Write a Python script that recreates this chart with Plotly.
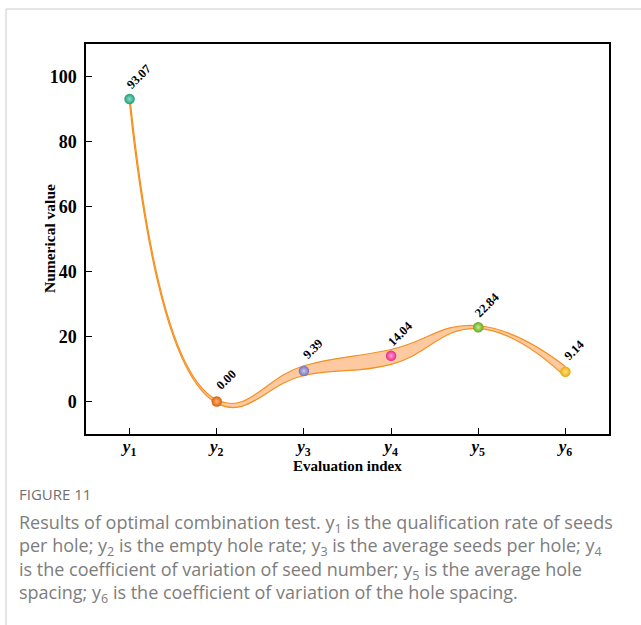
import plotly.graph_objects as go

# evaluation indices and optimal-combination results
index_labels = ["y1", "y2", "y3", "y4", "y5", "y6"]
values = [93.07, 0.00, 9.39, 14.04, 22.84, 9.14]
band_upper = [94.5, 0.5, 11.0, 16.0, 23.3, 10.8]
band_lower = [91.6, -0.5, 8.0, 11.4, 22.4, 7.6]
point_colors = ["#1b9e77", "#d95f02", "#7570b3", "#e7298a", "#66a61e", "#e6ab02"]
highlight_colors = ["#8fe0c8", "#ffb27a", "#c8c4f0", "#ff9fd0", "#c2ef8c", "#ffe08a"]

caption_head = "FIGURE 11"
caption_lines = [
    "Results of optimal combination test. y<sub>1</sub> is the qualification rate of seeds",
    "per hole; y<sub>2</sub> is the empty hole rate; y<sub>3</sub> is the average seeds per hole; y<sub>4</sub>",
    "is the coefficient of variation of seed number; y<sub>5</sub> is the average hole",
    "spacing; y<sub>6</sub> is the coefficient of variation of the hole spacing.",
]

W, H = 641, 625
L, R, T, B = 86, 609, 44, 434


def px_x(x):
    return (x - L) / (R - L)


def px_y(y):
    return (B - y) / (B - T)


xs = list(range(1, len(values) + 1))
serif = "Liberation Serif"
band_line = "#f5901f"

fig = go.Figure()

fig.add_trace(go.Scatter(
    x=xs, y=band_lower, mode="lines",
    line=dict(color=band_line, width=1.2, shape="spline", smoothing=1.3),
    hoverinfo="skip", showlegend=False,
))
fig.add_trace(go.Scatter(
    x=xs, y=band_upper, mode="lines",
    line=dict(color=band_line, width=1.2, shape="spline", smoothing=1.3),
    fill="tonexty", fillcolor="rgba(252,192,145,0.85)",
    hoverinfo="skip", showlegend=False,
))
fig.add_trace(go.Scatter(
    x=xs, y=values, mode="markers",
    marker=dict(size=10.5, color=point_colors,
                gradient=dict(type="radial", color=highlight_colors),
                line=dict(width=0)),
    showlegend=False,
))

for x, v in zip(xs, values):
    fig.add_annotation(
        x=x, y=v, xref="x", yref="y", text=f"{v:.2f}", showarrow=False,
        textangle=-45, xshift=9, yshift=22,
        font=dict(family=serif, size=12.5, color="black", weight="bold"),
    )

# axis titles placed as annotations
fig.add_annotation(
    x=0.5, y=px_y(466), xref="paper", yref="paper", text="Evaluation index",
    showarrow=False, xanchor="center", yanchor="middle",
    font=dict(family=serif, size=15, color="black", weight="bold"),
)
fig.add_annotation(
    x=px_x(49), y=0.5, xref="paper", yref="paper", text="Numerical value",
    showarrow=False, xanchor="center", yanchor="middle", textangle=-90,
    font=dict(family=serif, size=15.5, color="black", weight="bold"),
)

# caption below the chart
fig.add_annotation(
    x=px_x(17), y=px_y(494), xref="paper", yref="paper", text=caption_head,
    showarrow=False, xanchor="left", yanchor="middle",
    font=dict(family="Open Sans", size=15, color="#707070"),
)
fig.add_annotation(
    x=px_x(17), y=px_y(558), xref="paper", yref="paper",
    text="<br>".join(caption_lines),
    showarrow=False, xanchor="left", yanchor="middle", align="left",
    font=dict(family="Open Sans", size=18, color="#7d7d7d"),
)

# outer panel frame
fig.add_shape(type="line", xref="paper", yref="paper",
              x0=px_x(6), x1=px_x(W + 5), y0=px_y(9), y1=px_y(9),
              line=dict(color="#cccccc", width=1))
fig.add_shape(type="line", xref="paper", yref="paper",
              x0=px_x(6), x1=px_x(6), y0=px_y(9), y1=px_y(H + 5),
              line=dict(color="#cccccc", width=1))

tick_text = [f"<i>{s[0]}</i><sub>{s[1:]}</sub>" for s in index_labels]

fig.update_xaxes(
    range=[0.5, 6.5], tickvals=xs, ticktext=tick_text,
    tickfont=dict(family=serif, size=17, color="black", weight="bold"),
    ticklabelstandoff=-4,
    showline=True, linecolor="black", linewidth=1.5, mirror=True,
    ticks="inside", ticklen=6, tickcolor="black", tickwidth=1,
    showgrid=False, zeroline=False,
)
fig.update_yaxes(
    range=[-10, 110], tickvals=[0, 20, 40, 60, 80, 100],
    tickfont=dict(family=serif, size=18, color="black", weight="bold"),
    showline=True, linecolor="black", linewidth=1.5, mirror=True,
    ticks="inside", ticklen=6, tickcolor="black", tickwidth=1,
    ticklabelstandoff=4,
    showgrid=False, zeroline=False,
)

fig.update_layout(
    width=W, height=H,
    margin=dict(l=L, r=W - R, t=T, b=H - B, autoexpand=False),
    paper_bgcolor="white", plot_bgcolor="white",
    showlegend=False,
)

fig.write_html("out.html", config={"displayModeBar": False},
               post_script="document.body.style.margin = '0';")
